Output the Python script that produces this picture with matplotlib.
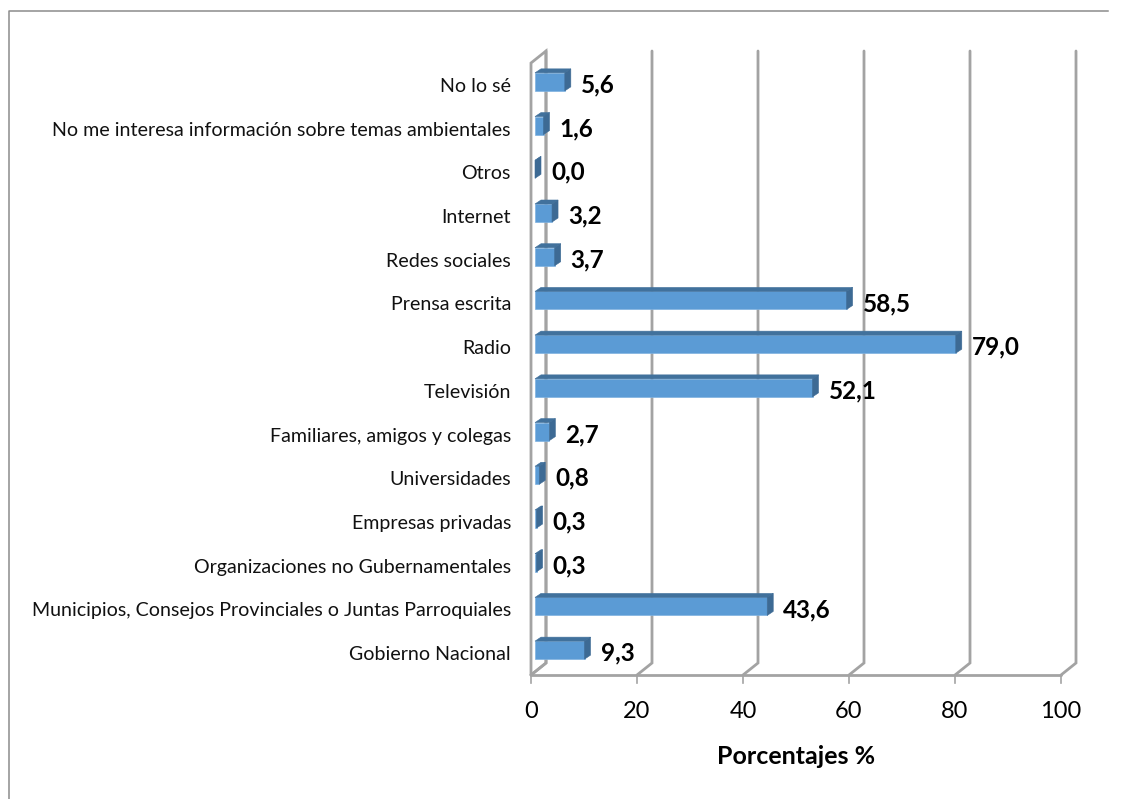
import matplotlib
matplotlib.use("Agg")
import matplotlib.pyplot as plt
from matplotlib.patches import Polygon

categories = ["Gobierno Nacional", "Municipios, Consejos Provinciales o Juntas Parroquiales",
              "Organizaciones no Gubernamentales", "Empresas privadas", "Universidades",
              "Familiares, amigos y colegas", "Televisión", "Radio", "Prensa escrita",
              "Redes sociales", "Internet", "Otros",
              "No me interesa información sobre temas ambientales", "No lo sé"]
values = [9.3, 43.6, 0.3, 0.3, 0.8, 2.7, 52.1, 79.0, 58.5, 3.7, 3.2, 0.0, 1.6, 5.6]
value_labels = ["9,3", "43,6", "0,3", "0,3", "0,8", "2,7", "52,1", "79,0", "58,5", "3,7", "3,2", "0,0", "1,6", "5,6"]
x_ticks = [0, 20, 40, 60, 80, 100]
x_label = "Porcentajes %"

W, H = 1122, 799
FONT = ["Lato", "DejaVu Sans"]
plt.rcParams["font.family"] = FONT
GRAY = "#a3a3a3"
FACE, TOP, SIDE = "#5b9bd5", "#41719c", "#3d6a94"

fig = plt.figure(figsize=(W / 100, H / 100), dpi=100)
L, R, Tp, B = 531, 1061, 63, 675
ax = fig.add_axes([L / W, 1 - B / H, (R - L) / W, (B - Tp) / H])
ax.set_xlim(0, 100)
ax.set_ylim(-0.5, 13.5)
ax.axis("off")
ux, uy = (R - L) / 100, (B - Tp) / 14  # pixels per data unit


def px(dx, dy):
    return dx / ux, dy / uy


# 3-D walls: back gridlines, front-left wall edge, floor and ticks
bx, by = px(15, 12)
line = dict(color=GRAY, lw=2.0, clip_on=False, solid_capstyle="round", solid_joinstyle="miter")
ax.plot([0, 0, bx, bx, 0], [-0.5, 13.5, 13.5 + by, -0.5 + by, -0.5], zorder=1, **line)
ax.plot([0, 100], [-0.5, -0.5], zorder=1, **line)
for t in x_ticks:
    ax.plot([t, t + bx, t + bx], [-0.5, -0.5 + by, 13.5 + by], zorder=1, **line)
    ax.plot([t, t], [-0.5, -0.5 - 8 / uy], color=GRAY, lw=1.2, clip_on=False, zorder=1)
    ax.text(t, -0.5 - 36 / uy, str(t), ha="center", va="center", fontsize=17, color="black")

# 3-D bars (the projection stretches bar lengths slightly against the axis)
BAR_STRETCH = 1.005
ox, _ = px(4, 0)
_, oy = px(0, 3)
dx, dy = px(6, 4)
h = 18 / uy
ys = list(range(len(values)))
lengths = [v * BAR_STRETCH for v in values]
ax.barh(ys, lengths, left=ox, height=h, color=FACE, edgecolor="#7fb2e0", lw=0.5, zorder=3,
        transform=ax.transData + matplotlib.transforms.Affine2D().translate(0, 3))
for y, v, cat, lab in zip(ys, lengths, categories, value_labels):
    yc = y + oy
    x0, x1 = ox, ox + v
    ax.add_patch(Polygon([(x0, yc + h / 2), (x1, yc + h / 2), (x1 + dx, yc + h / 2 + dy), (x0 + dx, yc + h / 2 + dy)],
                         closed=True, fc=TOP, ec=TOP, lw=0.4, zorder=4))
    ax.add_patch(Polygon([(x1, yc - h / 2), (x1, yc + h / 2), (x1 + dx, yc + h / 2 + dy), (x1 + dx, yc - h / 2 + dy)],
                         closed=True, fc=SIDE, ec=SIDE, lw=0.4, zorder=4))
    ax.text(-20 / ux, y - 1.5 / uy, cat, ha="right", va="center", fontsize=14.1, color="#111111", clip_on=False)
    ax.text(x1 + dx + 10 / ux, y, lab, ha="left", va="center", fontsize=17.5, fontweight="bold", color="black", zorder=5)

ax.text(50 + 0.5 / ux, -0.5 - 81 / uy, x_label, ha="center", va="center", fontsize=18, fontweight="bold")

fig.add_artist(plt.Line2D([8.5 / W, 8.5 / W, 1108 / W], [0, 1 - 11 / H, 1 - 11 / H], color="#8c8c8c", lw=1.1))
fig.savefig("out.png", dpi=100)
